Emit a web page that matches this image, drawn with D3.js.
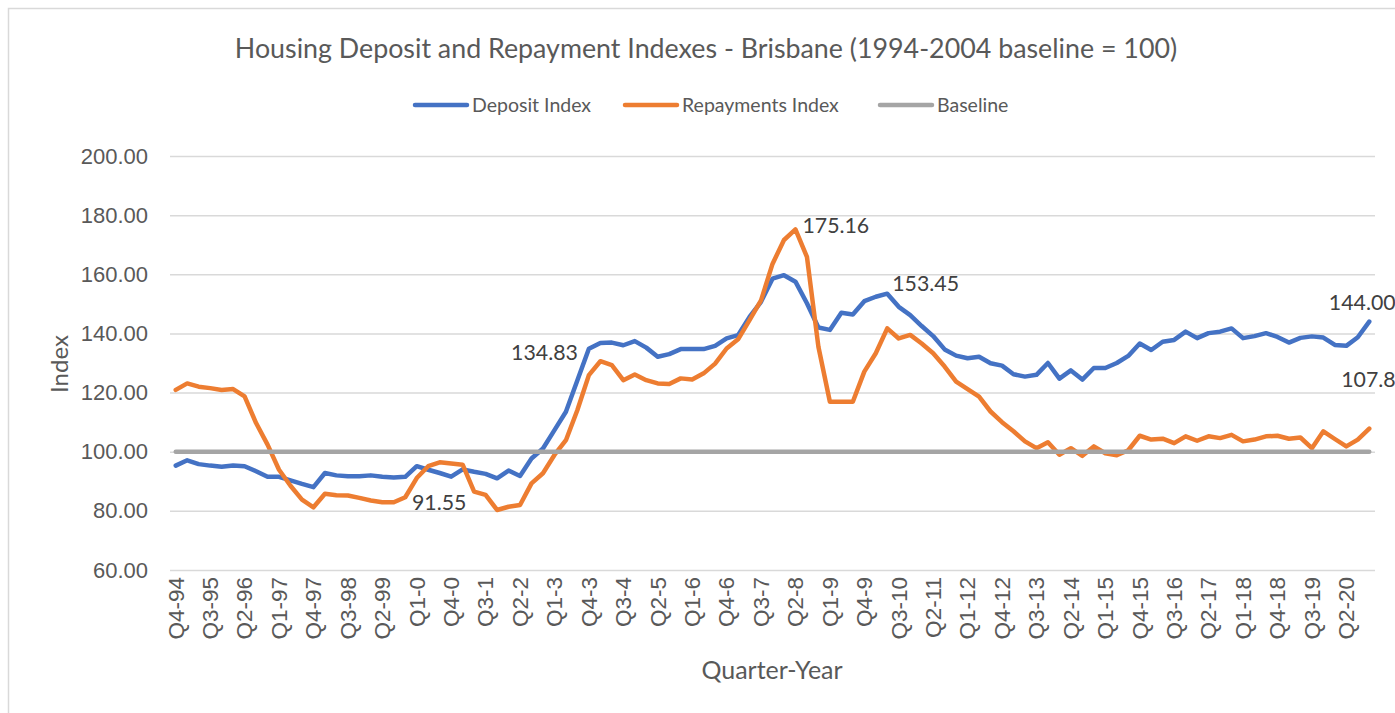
<!DOCTYPE html>
<html>
<head>
<meta charset="utf-8">
<script src="https://cdn.jsdelivr.net/npm/d3@7"></script>
<style>
  body { margin: 0; background: #fff; }
  svg { display: block; font-family: Lato, "Open Sans", sans-serif; }
  .grid line { stroke: #d9d9d9; stroke-width: 1.5; }
  .grid .domain { display: none; }
  .axis-text { fill: #595959; }
</style>
</head>
<body>
<div id="chart"></div>
<script>
// quarters Q4-94 .. Q4-20 (year shown without leading zero, as in the source sheet)
const quarters = [];
for (let y = 1994, q = 4; y < 2021; ) {
  quarters.push("Q" + q + "-" + (y % 100));
  q++;
  if (q > 4) { q = 1; y++; }
}

const depositIndex = [
  95.3, 97.1, 95.8, 95.3, 94.9, 95.3, 95.1, 93.4, 91.5, 91.5,
  90.3, 89.1, 88.0, 92.8, 92.0, 91.7, 91.7, 92.0, 91.5, 91.3,
  91.5, 95.1, 93.9, 92.8, 91.55, 94.0, 93.2, 92.5, 91.0, 93.6,
  91.8, 97.7, 101.1, 107.3, 113.5, 124.2, 134.83, 136.8, 136.9, 136.0,
  137.4, 135.2, 132.1, 133.0, 134.7, 134.7, 134.7, 135.8, 138.3, 139.4,
  145.6, 150.7, 158.5, 159.7, 157.5, 150.2, 142.0, 141.2, 147.0, 146.4,
  150.9, 152.4, 153.45, 149.0, 146.2, 142.5, 139.1, 134.6, 132.5, 131.6,
  132.1, 129.9, 129.1, 126.2, 125.4, 126.0, 130.0, 124.7, 127.5, 124.4,
  128.3, 128.3, 130.0, 132.4, 136.6, 134.4, 137.2, 137.8, 140.6, 138.4,
  140.1, 140.6, 141.7, 138.4, 139.1, 140.1, 138.8, 136.9, 138.5, 139.0,
  138.6, 136.1, 135.8, 138.7, 144.0
];

const repaymentsIndex = [
  120.9, 123.1, 122.0, 121.5, 120.9, 121.2, 118.7, 109.7, 102.4, 93.9,
  88.5, 83.8, 81.2, 85.8, 85.3, 85.2, 84.4, 83.5, 82.9, 82.9,
  84.6, 91.1, 95.1, 96.4, 96.0, 95.6, 86.5, 85.4, 80.3, 81.4,
  82.0, 89.3, 92.7, 98.9, 103.9, 114.1, 125.9, 130.6, 129.3, 124.2,
  126.1, 124.2, 123.1, 122.9, 124.8, 124.4, 126.5, 129.8, 134.9, 138.0,
  144.5, 151.2, 163.5, 171.6, 175.16, 165.9, 135.5, 116.9, 116.9, 116.9,
  127.1, 133.3, 141.7, 138.3, 139.5, 136.6, 133.3, 128.8, 123.7, 121.2,
  118.6, 113.6, 110.0, 106.9, 103.5, 101.2, 103.2, 99.0, 101.2, 98.6,
  101.8, 99.5, 98.8, 100.5, 105.4, 104.1, 104.4, 102.9, 105.2, 103.7,
  105.2, 104.6, 105.7, 103.5, 104.1, 105.2, 105.4, 104.4, 104.8, 101.2,
  106.9, 104.3, 101.8, 104.1, 107.8
];

const baseline = quarters.map(() => 100);

const yTicks = [60, 80, 100, 120, 140, 160, 180, 200];

const seriesNames = ["Deposit Index", "Repayments Index", "Baseline"];
const seriesColors = ["#4472C4", "#ED7D31", "#A5A5A5"];

// data labels: which series / which point, and how the label sits next to it
const dataLabels = [
  { s: 0, i: 24, text: "91.55", dx: -12, dy: 26, anchor: "middle" },
  { s: 0, i: 36, text: "134.83", dx: -11, dy: 4, anchor: "end" },
  { s: 1, i: 54, text: "175.16", dx: 7, dy: -4, anchor: "start" },
  { s: 0, i: 62, text: "153.45", dx: 5, dy: -10, anchor: "start" },
  { s: 0, i: 104, text: "144.00", dx: -7, dy: -19, anchor: "middle" },
  { s: 1, i: 104, text: "107.8", dx: -28, dy: -49, anchor: "start" }
];

const W = 1395, H = 713;
const svg = d3.select("#chart").append("svg")
  .attr("width", W).attr("height", H);

// chart frame
svg.append("rect")
  .attr("x", 8.5).attr("y", 8.5)
  .attr("width", W + 20).attr("height", H + 20)
  .attr("fill", "#fff").attr("stroke", "#d9d9d9").attr("stroke-width", 1.5);

const x = d3.scaleBand().domain(quarters).range([170, 1375]);
const cx = d => x(d) + x.bandwidth() / 2;
const y = d3.scaleLinear().domain([60, 200]).range([570, 156]);

// title
svg.append("text")
  .attr("x", 706).attr("y", 58)
  .attr("text-anchor", "middle")
  .attr("class", "axis-text")
  .style("font-size", "26.8px")
  .text("Housing Deposit and Repayment Indexes - Brisbane (1994-2004 baseline = 100)");

// legend
const legendX = [415, 625, 880];
const legend = svg.append("g");
seriesNames.forEach((name, k) => {
  legend.append("line")
    .attr("x1", legendX[k]).attr("x2", legendX[k] + 52)
    .attr("y1", 105).attr("y2", 105)
    .attr("stroke", seriesColors[k]).attr("stroke-width", 4.5)
    .attr("stroke-linecap", "round");
  legend.append("text")
    .attr("x", legendX[k] + 57).attr("y", 112)
    .attr("class", "axis-text")
    .style("font-size", "19.5px")
    .text(name);
});

// y gridlines + labels
const yAxis = svg.append("g")
  .attr("class", "grid")
  .attr("transform", "translate(170,0)")
  .call(d3.axisLeft(y).tickValues(yTicks).tickFormat(d3.format(".2f"))
    .tickSize(-(1375 - 170)).tickPadding(22));
yAxis.selectAll("text")
  .attr("class", "axis-text")
  .style("font-size", "22px");

// x axis labels, every third quarter
const xAxis = svg.append("g")
  .attr("transform", "translate(0,570)")
  .call(d3.axisBottom(x).tickValues(quarters.filter((d, i) => i % 3 === 0)).tickSize(0));
xAxis.select(".domain").remove();
xAxis.selectAll("text")
  .attr("class", "axis-text")
  .style("font-size", "22.5px")
  .attr("transform", "rotate(-90)")
  .attr("text-anchor", "end")
  .attr("x", -7).attr("y", 0).attr("dy", "0.35em");

// axis titles
svg.append("text")
  .attr("x", 772).attr("y", 679)
  .attr("text-anchor", "middle")
  .attr("class", "axis-text")
  .style("font-size", "25px")
  .text("Quarter-Year");

svg.append("text")
  .attr("transform", "translate(68,364) rotate(-90)")
  .attr("text-anchor", "middle")
  .attr("class", "axis-text")
  .style("font-size", "24px")
  .text("Index");

// lines
const allSeries = [depositIndex, repaymentsIndex, baseline];
const line = d3.line()
  .x((d, i) => cx(quarters[i]))
  .y(d => y(d));

allSeries.forEach((vals, k) => {
  svg.append("path")
    .datum(vals)
    .attr("fill", "none")
    .attr("stroke", seriesColors[k])
    .attr("stroke-width", 4.5)
    .attr("stroke-linejoin", "round")
    .attr("stroke-linecap", "round")
    .attr("d", line);
});

// data labels
dataLabels.forEach(l => {
  const v = allSeries[l.s][l.i];
  svg.append("text")
    .attr("x", cx(quarters[l.i]) + l.dx)
    .attr("y", y(v) + l.dy)
    .attr("dy", "0.35em")
    .attr("text-anchor", l.anchor)
    .style("font-size", "21.3px")
    .attr("fill", "#404040")
    .text(l.text);
});
</script>
</body>
</html>
